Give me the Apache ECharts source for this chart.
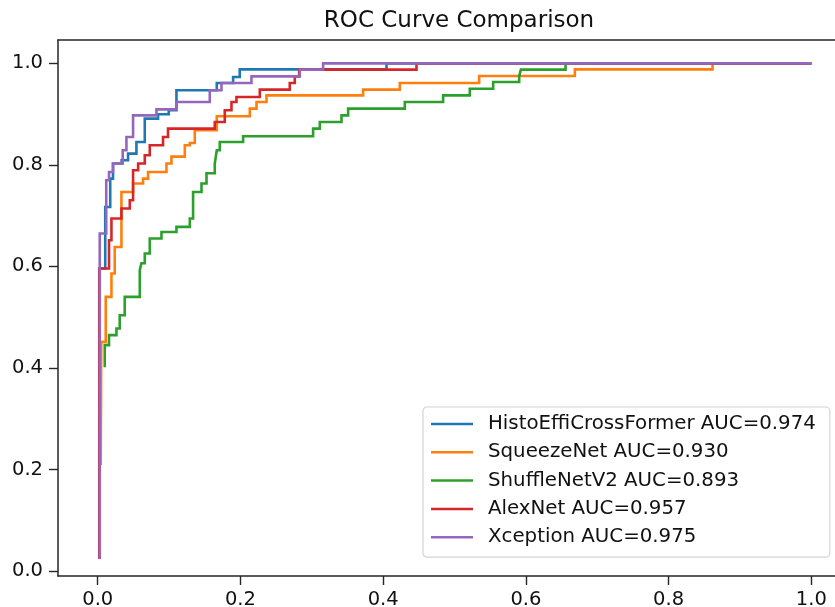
<!DOCTYPE html>
<html>
<head>
<meta charset="utf-8">
<script src="https://cdn.jsdelivr.net/npm/echarts@6/dist/echarts.min.js"></script>
<style>
html,body{margin:0;padding:0;background:#fff;}
#chart{width:835px;height:607px;}
</style>
</head>
<body>
<div id="chart"></div>
<script>
// ---- data (false positive rate / true positive rate) ----
const chartTitle = 'ROC Curve Comparison';
const seriesNames = [
  'HistoEffiCrossFormer AUC=0.974',
  'SqueezeNet AUC=0.930',
  'ShuffleNetV2 AUC=0.893',
  'AlexNet AUC=0.957',
  'Xception AUC=0.975'
];
const seriesColors = ['#1f77b4', '#ff7f0e', '#2ca02c', '#d62728', '#9467bd'];

const histoFpr = [0.0028,0.0028,0.0105,0.0175,0.0214,0.0335,0.0425,0.0542,0.0659,0.0845,0.0995,0.1103,0.1668,0.1897,0.1990,0.4047,1.0];
const histoTpr = [0.0236,0.5959,0.7171,0.7730,0.8026,0.8091,0.8222,0.8451,0.8911,0.8996,0.9075,0.9469,0.9612,0.9730,0.9882,1.0,1.0];

const squeezeFpr = [0.0042,0.0049,0.0112,0.0192,0.0238,0.0332,0.0495,0.0635,0.0705,0.0963,0.1033,0.1220,0.1290,0.1360,0.1668,0.2131,0.2225,0.2365,0.3719,0.4233,0.5345,0.6686,0.8616,1.0];
const squeezeTpr = [0.2087,0.4514,0.5400,0.5860,0.6384,0.7467,0.7632,0.7730,0.7860,0.8026,0.8163,0.8386,0.8431,0.8681,0.8957,0.9108,0.9238,0.9370,0.9482,0.9612,0.9750,0.9882,1.0,1.0];

const shuffleFpr = [0.0098,0.0098,0.0158,0.0262,0.0308,0.0378,0.0589,0.0612,0.0659,0.0729,0.0893,0.1103,0.1290,0.1336,0.1454,0.1524,0.1640,0.1668,0.1710,0.2037,0.3018,0.3112,0.3416,0.3509,0.4303,0.4840,0.5214,0.5541,0.5906,0.5930,0.6556,1.0];
const shuffleTpr = [0.4016,0.4449,0.4646,0.4778,0.5039,0.5400,0.5925,0.6063,0.6254,0.6549,0.6679,0.6778,0.6943,0.7467,0.7632,0.7835,0.8026,0.8287,0.8451,0.8563,0.8715,0.8844,0.8976,0.9108,0.9238,0.9370,0.9500,0.9632,0.9750,0.9876,1.0,1.0];

const alexFpr = [0.0021,0.0021,0.0158,0.0192,0.0332,0.0449,0.0495,0.0566,0.0659,0.0729,0.0915,0.0985,0.1640,0.1780,0.1874,0.1944,0.2271,0.2691,0.2761,0.2822,0.4467,1.0];
const alexTpr = [0.0236,0.5959,0.6516,0.6943,0.7140,0.7303,0.7894,0.8026,0.8189,0.8386,0.8549,0.8715,0.8844,0.9075,0.9238,0.9337,0.9482,0.9612,0.9744,0.9876,1.0,1.0];

const xceptionFpr = [0.0028,0.0028,0.0119,0.0158,0.0214,0.0350,0.0402,0.0495,0.0823,0.1103,0.1570,0.1734,0.2154,0.2832,0.3158,1.0];
const xceptionTpr = [0.0236,0.6648,0.7697,0.7860,0.8026,0.8287,0.8549,0.8976,0.9094,0.9238,0.9469,0.9612,0.9744,0.9876,1.0,1.0];

const xTicks = [0.0, 0.2, 0.4, 0.6, 0.8, 1.0];
const yTicks = [0.0, 0.2, 0.4, 0.6, 0.8, 1.0];

// ---- build ----
const fprs = [histoFpr, squeezeFpr, shuffleFpr, alexFpr, xceptionFpr];
const tprs = [histoTpr, squeezeTpr, shuffleTpr, alexTpr, xceptionTpr];

const FONT = 'DejaVu Sans';
const AXIS_COLOR = '#262626';
const TEXT_COLOR = '#111111';

const series = seriesNames.map((name, i) => ({
  name: name,
  type: 'line',
  step: 'end',
  showSymbol: false,
  symbol: 'none',
  silent: true,
  animation: false,
  data: fprs[i].map((x, j) => [x, tprs[i][j]]),
  lineStyle: { color: seriesColors[i], width: 2.6, cap: 'butt', join: 'miter' },
  itemStyle: { color: seriesColors[i] },
  xAxisIndex: 0,
  yAxisIndex: 0
}));

const chart = echarts.init(document.getElementById('chart'), null, { renderer: 'canvas' });
chart.setOption({
  animation: false,
  backgroundColor: '#ffffff',
  title: {
    text: chartTitle,
    left: 454,
    top: 5,
    textAlign: 'center',
    textStyle: { fontFamily: FONT, fontSize: 23, fontWeight: 'normal', color: TEXT_COLOR }
  },
  grid: {
    left: 58,
    right: -12,
    top: 40,
    bottom: 31,
    containLabel: false,
    outerBoundsMode: 'none'
  },
  legend: {
    orient: 'vertical',
    left: 423,
    top: 407,
    padding: [7, 14, 10, 8],
    itemWidth: 42,
    itemHeight: 20,
    itemGap: 8.3,
    icon: 'path://M0,9 L42,9 L42,11.5 L0,11.5 Z',
    backgroundColor: 'rgba(255,255,255,0.85)',
    borderColor: '#d4d4d4',
    borderWidth: 1.2,
    borderRadius: 4,
    selectedMode: false,
    textStyle: {
      fontFamily: FONT,
      fontSize: 19.8,
      color: TEXT_COLOR,
      lineHeight: 20,
      padding: [0, 0, 0, 10]
    },
    data: seriesNames.map((n, i) => ({ name: n, itemStyle: { color: seriesColors[i] } }))
  },
  xAxis: [{
    type: 'value',
    min: -0.0557,
    max: 1.05,
    position: 'bottom',
    axisLine: { show: true, onZero: false, lineStyle: { color: AXIS_COLOR, width: 1.5 } },
    axisTick: { show: true, inside: false, length: 9, customValues: xTicks, lineStyle: { color: AXIS_COLOR, width: 1.4 } },
    axisLabel: {
      show: true, margin: 14, customValues: xTicks,
      formatter: v => Number(v).toFixed(1),
      fontFamily: FONT, fontSize: 19.5, color: TEXT_COLOR
    },
    splitLine: { show: false }
  }, {
    type: 'value',
    min: -0.0557,
    max: 1.05,
    position: 'top',
    axisLine: { show: true, onZero: false, lineStyle: { color: AXIS_COLOR, width: 1.5 } },
    axisTick: { show: false },
    axisLabel: { show: false },
    splitLine: { show: false }
  }],
  yAxis: [{
    type: 'value',
    min: -0.0098,
    max: 1.046,
    position: 'left',
    axisLine: { show: true, onZero: false, lineStyle: { color: AXIS_COLOR, width: 1.5 } },
    axisTick: { show: true, inside: false, length: 9, customValues: yTicks, lineStyle: { color: AXIS_COLOR, width: 1.4 } },
    axisLabel: {
      show: true, margin: 15, customValues: yTicks,
      formatter: v => Number(v).toFixed(1),
      fontFamily: FONT, fontSize: 19.5, color: TEXT_COLOR
    },
    splitLine: { show: false }
  }],
  series: series
});
</script>
</body>
</html>
